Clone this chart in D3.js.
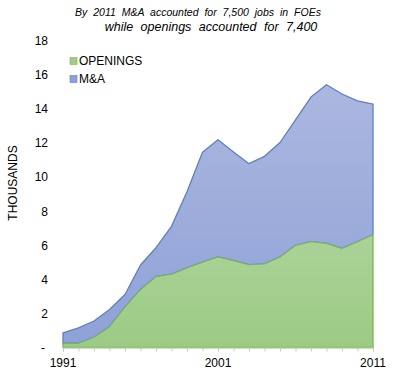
<!DOCTYPE html>
<html><head><meta charset="utf-8">
<script src="https://cdn.jsdelivr.net/npm/d3@7"></script>
<style>
html,body{margin:0;padding:0;background:#fff;}
svg{display:block;font-family:"Liberation Sans",Arial,sans-serif;}
</style></head>
<body>
<svg id="c" width="397" height="379"></svg>
<script>
const years = d3.range(1991, 2012);
const openings = [0.25,0.25,0.6,1.22,2.38,3.4,4.15,4.3,4.66,5.0,5.3,5.08,4.85,4.9,5.3,5.98,6.2,6.1,5.8,6.2,6.6];
const mna = [0.61,0.9,0.95,1.0,0.72,1.43,1.69,2.79,4.46,6.43,6.86,6.37,5.91,6.29,6.7,7.35,8.46,9.28,9.04,8.24,7.65];
const yTicks = [0,2,4,6,8,10,12,14,16,18];
const xLabels = [1991,2001,2011];
const titleLine1 = "By 2011 M&A accounted for 7,500 jobs in FOEs";
const titleLine2 = "while openings accounted for 7,400";
const seriesNames = ["OPENINGS","M&A"];

const svg = d3.select("#c");
const x = d3.scaleLinear().domain([1991,2011]).range([63,373]);
const y = d3.scaleLinear().domain([0,18]).range([347.5,40]);

const rows = years.map((yr,i)=>({year:yr, OPENINGS:openings[i], "M&A":mna[i]}));
const stack = d3.stack().keys(seriesNames)(rows);

const defs = svg.append("defs");
function grad(id, top, bot){
  const g = defs.append("linearGradient").attr("id",id).attr("gradientUnits","userSpaceOnUse")
    .attr("x1",0).attr("y1",y(16)).attr("x2",0).attr("y2",y(0));
  g.append("stop").attr("offset","0%").attr("stop-color",top);
  g.append("stop").attr("offset","100%").attr("stop-color",bot);
}
grad("gG","#c0dcb2","#9ccb85");
grad("gB","#adb8e0","#8ea1d6");

const area = d3.area().x(d=>x(d.data.year)).y0(d=>y(d[0])).y1(d=>y(d[1]));
const fills = ["url(#gG)","url(#gB)"];
const strokes = ["#79b554","#5a7fcf"];
[1,0].forEach(k=>{
  svg.append("path").datum(stack[k]).attr("d",area)
    .attr("fill",fills[k]).attr("stroke",strokes[k]).attr("stroke-width",1.3)
    .attr("stroke-linejoin","round");
});

// x axis
const xAxis = d3.axisBottom(x).tickValues(years).tickSize(4).tickFormat("");
const gx = svg.append("g").attr("transform",`translate(0,${y(0)})`).call(xAxis);
gx.select(".domain").attr("stroke","#c8c8c8");
gx.selectAll(".tick line").attr("stroke","#c8c8c8");
svg.append("g").selectAll("text").data(xLabels).join("text")
  .attr("x",d=>x(d)).attr("y",367).attr("text-anchor","middle")
  .attr("font-size",12).attr("fill","#000").text(d=>d);

// y axis labels
const yAxis = d3.axisLeft(y).tickValues(yTicks).tickSize(0).tickPadding(0)
  .tickFormat(d=> d===0 ? "-" : d);
const gy = svg.append("g").attr("transform","translate(48,0)").call(yAxis);
gy.select(".domain").remove();
gy.selectAll("text").attr("font-size",12).attr("fill","#000")
  .attr("font-family","Liberation Sans, Arial, sans-serif").attr("dy","0.35em");
gy.selectAll(".tick").filter(d=>d===0).select("text").attr("x",-3);

svg.append("text").attr("transform","translate(17,183) rotate(-90)")
  .attr("text-anchor","middle").attr("font-size",12).attr("fill","#000").text("THOUSANDS");

// title
svg.append("text").attr("x",198).attr("y",16).attr("text-anchor","middle")
  .attr("font-size",10.5).attr("font-style","italic").attr("word-spacing","3px").attr("fill","#000").text(titleLine1);
svg.append("text").attr("x",211).attr("y",31).attr("text-anchor","middle")
  .attr("font-size",12.5).attr("font-style","italic").attr("word-spacing","4px").attr("fill","#000").text(titleLine2);

// legend
const legColors = [["#9fcc88","#79b554"],["#8ea1d6","#5a7fcf"]];
const leg = svg.append("g").selectAll("g").data(seriesNames).join("g")
  .attr("transform",(d,i)=>`translate(70,${61+i*18})`);
leg.append("rect").attr("x",0).attr("y",-3.5).attr("width",7).attr("height",7)
  .attr("fill",(d,i)=>legColors[i][0]).attr("stroke",(d,i)=>legColors[i][1]).attr("stroke-width",0.6);
leg.append("text").attr("x",9).attr("y",0).attr("dy","0.36em").attr("font-size",12).attr("fill","#000").text(d=>d);
</script>
</body></html>
